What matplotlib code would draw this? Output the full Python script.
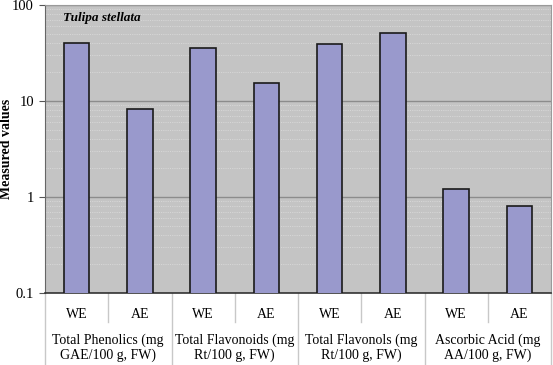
import matplotlib.pyplot as plt
import matplotlib.ticker as ticker

plt.rcParams['font.family'] = ['Liberation Serif', 'DejaVu Serif']

groups = ['Total Phenolics (mg\nGAE/100 g, FW)', 'Total Flavonoids (mg\nRt/100 g, FW)',
          'Total Flavonols (mg\nRt/100 g, FW)', 'Ascorbic Acid (mg\nAA/100 g, FW)']
extracts = ['WE', 'AE']
we_vals = [40, 35.5, 39.5, 1.2]
ae_vals = [8.2, 15.3, 51.5, 0.8]

values = []
labels = []
for w, a in zip(we_vals, ae_vals):
    values += [w, a]
    labels += extracts

fig = plt.figure(figsize=(5.53, 3.65), dpi=100)
ax = fig.add_axes([45/553, 72/365, 506/553, 288/365])
ax.set_facecolor('#c4c4c4')

x = list(range(len(values)))
ax.bar(x, values, width=0.4, color='#9999cc', edgecolor='#1a1a1a', linewidth=1.2, zorder=3)

ax.set_yscale('log')
ax.set_ylim(0.1, 100)
ax.set_xlim(-0.5, len(values) - 0.5)
ax.yaxis.set_major_formatter(ticker.FuncFormatter(lambda v, p: '%g' % v))
ax.yaxis.set_minor_formatter(ticker.NullFormatter())
ax.yaxis.set_minor_locator(ticker.LogLocator(base=10, subs=range(2, 10)))
ax.grid(which='major', axis='y', color='#8c8c8c', linewidth=1, zorder=1)
ax.grid(which='minor', axis='y', color='#d6d6d6', linewidth=0.8, linestyle=(0, (1, 1)), zorder=1)
ax.tick_params(axis='y', which='major', length=4, pad=4, color='#555555', labelsize=10.5)
ax.tick_params(axis='y', which='minor', length=0)
ax.set_xticks([])

for s in ['top', 'right']:
    ax.spines[s].set_color('#9a9a9a')
ax.spines['left'].set_color('#666666')
ax.spines['bottom'].set_color('#333333')
ax.spines['bottom'].set_linewidth(1.2)

ax.set_ylabel('Measured values', fontsize=10, fontweight='bold')
ax.yaxis.set_label_coords(-0.064, 0.5)
ax.text(0.036, 0.975, 'Tulipa stellata', transform=ax.transAxes, fontsize=9.5,
        fontweight='bold', fontstyle='italic', va='top', ha='left')

# table-like category labels below axis
tr = ax.get_xaxis_transform()
for i, lab in enumerate(labels):
    ax.text(i, -0.073, lab, transform=tr, ha='center', va='center', fontsize=10, clip_on=False)
for i in range(len(values) + 1):
    xs = i - 0.5
    if i % 2 == 0:
        ax.plot([xs, xs], [0, -0.26], transform=tr, color='#c8c8c8', lw=1, clip_on=False)
    else:
        ax.plot([xs, xs], [0, -0.1], transform=tr, color='#c8c8c8', lw=1, clip_on=False)
for g, name in enumerate(groups):
    ax.text(2 * g + 0.5, -0.19, name, transform=tr, ha='center', va='center',
            fontsize=10, linespacing=1.2, clip_on=False)

fig.savefig('out.png', dpi=100)
